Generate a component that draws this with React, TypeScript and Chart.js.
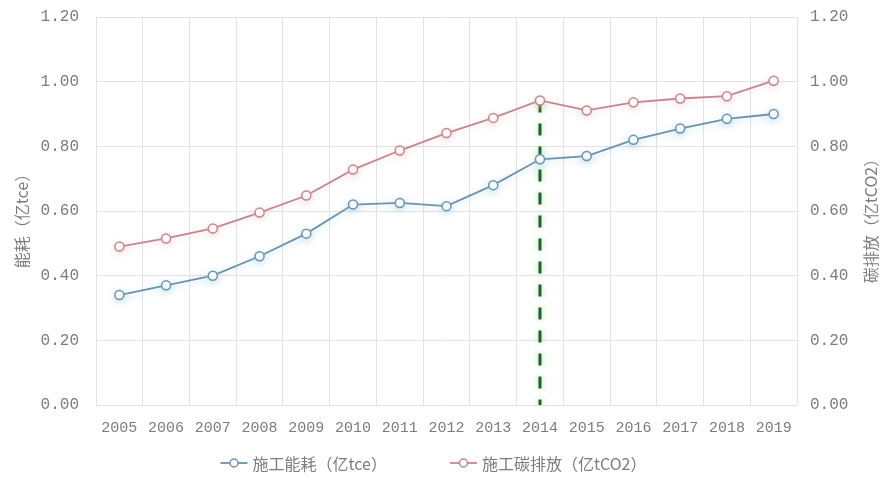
import { useEffect, useRef } from "react";
import { Chart, registerables } from "chart.js";

Chart.register(...registerables);

// Years on the category axis
const years = [
  "2005", "2006", "2007", "2008", "2009", "2010", "2011", "2012",
  "2013", "2014", "2015", "2016", "2017", "2018", "2019",
];

// Construction energy use (亿tce)
const energyUse = [
  0.34, 0.37, 0.40, 0.46, 0.53, 0.62, 0.625, 0.615,
  0.68, 0.76, 0.77, 0.82, 0.855, 0.885, 0.90,
];

// Construction carbon emissions (亿tCO2)
const carbonEmission = [
  0.49, 0.515, 0.546, 0.595, 0.648, 0.728, 0.787, 0.841,
  0.888, 0.942, 0.911, 0.936, 0.948, 0.955, 1.003,
];

// Shared value range of both y axes
const yMin = 0;
const yMax = 1.2;
const yStep = 0.2;

// Year marked by the dashed vertical line
const markerYear = "2014";

const energyLabel = "施工能耗（亿tce）";
const carbonLabel = "施工碳排放（亿tCO2）";
const leftAxisTitle = "能耗（亿tce）";
const rightAxisTitle = "碳排放（亿tCO2）";

const BLUE = "#6f91ab";
const RED = "#c4878c";
const TEXT = "#7c7c7c";
const GRID = "#e3e3e3";
const MONO = '"Liberation Mono", "DejaVu Sans Mono", monospace';
const CJK_FONT = '"Noto Sans CJK SC", "Noto Sans", sans-serif';

// Soft halo behind each series line
const glowPlugin = {
  id: "seriesGlow",
  beforeDatasetDraw(chart: any, args: any) {
    const ds = chart.data.datasets[args.index];
    const ctx = chart.ctx;
    ctx.save();
    ctx.shadowColor = ds.glowColor || "transparent";
    ctx.shadowBlur = 7;
    ctx.shadowOffsetY = 2;
  },
  afterDatasetDraw(chart: any) {
    chart.ctx.restore();
  },
};

// Dashed green marker from the emission point down to the x axis
const markerPlugin = {
  id: "yearMarker",
  beforeDatasetsDraw(chart: any) {
    const { ctx, chartArea, scales } = chart;
    const idx = years.indexOf(markerYear);
    const x = scales.x.getPixelForValue(idx);
    const yTop = scales.y1.getPixelForValue(carbonEmission[idx]);
    ctx.save();
    ctx.strokeStyle = "#265f2f";
    ctx.lineWidth = 3;
    ctx.setLineDash([12, 11]);
    ctx.shadowColor = "rgba(120, 225, 120, 0.9)";
    ctx.shadowBlur = 6;
    ctx.beginPath();
    ctx.moveTo(x, yTop);
    ctx.lineTo(x, chartArea.bottom);
    ctx.stroke();
    ctx.restore();
  },
};

// Rotated axis titles on both sides (both read bottom-to-top)
const axisTitlePlugin = {
  id: "axisTitles",
  afterDraw(chart: any) {
    const { ctx, chartArea } = chart;
    const cy = (chartArea.top + chartArea.bottom) / 2 + 6;
    ctx.save();
    ctx.font = `16px ${CJK_FONT}`;
    ctx.fillStyle = TEXT;
    ctx.textAlign = "center";
    ctx.textBaseline = "middle";
    const titles: [number, string][] = [
      [22, leftAxisTitle],
      [chart.width - 10, rightAxisTitle],
    ];
    titles.forEach(([x, t]) => {
      ctx.save();
      ctx.translate(x, cy);
      ctx.rotate(-Math.PI / 2);
      ctx.fillText(t, 0, 0);
      ctx.restore();
    });
    ctx.restore();
  },
};

// Legend with line-and-circle swatches
const legendPlugin = {
  id: "seriesLegend",
  afterDraw(chart: any) {
    const { ctx, chartArea } = chart;
    const items = chart.data.datasets.map((ds: any) => ({
      text: ds.label as string,
      color: ds.borderColor as string,
    }));
    ctx.save();
    ctx.font = `16px ${CJK_FONT}`;
    const markW = 27;
    const markGap = 5;
    const itemGap = 63;
    let x = chart.width / 2 - 220;
    const y = chartArea.bottom + 58;
    items.forEach((it: any) => {
      ctx.strokeStyle = it.color;
      ctx.lineWidth = 1.8;
      ctx.beginPath();
      ctx.moveTo(x, y);
      ctx.lineTo(x + markW, y);
      ctx.stroke();
      ctx.beginPath();
      ctx.arc(x + markW / 2, y, 4, 0, Math.PI * 2);
      ctx.fillStyle = "#ffffff";
      ctx.fill();
      ctx.lineWidth = 1.5;
      ctx.stroke();
      ctx.fillStyle = TEXT;
      ctx.textAlign = "left";
      ctx.textBaseline = "middle";
      ctx.fillText(it.text, x + markW + markGap, y + 1);
      x += markW + markGap + ctx.measureText(it.text).width + itemGap;
    });
    ctx.restore();
  },
};

export default function App() {
  const canvasRef = useRef<HTMLCanvasElement | null>(null);

  useEffect(() => {
    if (!canvasRef.current) return;
    const chart = new Chart(canvasRef.current, {
      type: "line",
      data: {
        labels: years,
        datasets: [
          {
            label: energyLabel,
            data: energyUse,
            yAxisID: "y",
            borderColor: BLUE,
            backgroundColor: "#ffffff",
            borderWidth: 1.8,
            pointRadius: 4.5,
            pointBorderWidth: 1.5,
            pointBackgroundColor: "#ffffff",
            pointBorderColor: BLUE,
            tension: 0,
            glowColor: "rgba(140, 205, 235, 0.5)",
          } as any,
          {
            label: carbonLabel,
            data: carbonEmission,
            yAxisID: "y1",
            borderColor: RED,
            backgroundColor: "#ffffff",
            borderWidth: 1.8,
            pointRadius: 4.5,
            pointBorderWidth: 1.5,
            pointBackgroundColor: "#ffffff",
            pointBorderColor: RED,
            tension: 0,
            glowColor: "rgba(240, 185, 195, 0.45)",
          } as any,
        ],
      },
      options: {
        animation: false,
        responsive: true,
        maintainAspectRatio: false,
        layout: { padding: { top: 17, left: 0, right: 0, bottom: 0 } },
        plugins: {
          legend: { display: false },
          tooltip: { enabled: false },
        },
        scales: {
          x: {
            type: "category",
            offset: true,
            grid: { offset: true, color: GRID, drawTicks: false },
            border: { display: false },
            ticks: {
              font: { family: MONO, size: 15 },
              color: TEXT,
              padding: 14,
              maxRotation: 0,
              autoSkip: false,
            },
            afterFit: (s: any) => {
              s.height = 72;
            },
          },
          y: {
            position: "left",
            min: yMin,
            max: yMax,
            grid: {
              color: GRID,
              drawTicks: true,
              tickLength: 17,
              tickColor: "rgba(0,0,0,0)",
            },
            border: { display: false },
            ticks: {
              stepSize: yStep,
              font: { family: MONO, size: 16 },
              color: TEXT,
              padding: 0,
              callback: (v: any) => Number(v).toFixed(2),
            },
            afterFit: (s: any) => {
              s.width = 96;
            },
          },
          y1: {
            position: "right",
            min: yMin,
            max: yMax,
            grid: {
              drawOnChartArea: false,
              drawTicks: true,
              tickLength: 13,
              tickColor: "rgba(0,0,0,0)",
            },
            border: { display: false },
            ticks: {
              stepSize: yStep,
              font: { family: MONO, size: 16 },
              color: TEXT,
              padding: 0,
              callback: (v: any) => Number(v).toFixed(2),
            },
            afterFit: (s: any) => {
              s.width = 84;
            },
          },
        },
      },
      plugins: [glowPlugin, markerPlugin, axisTitlePlugin, legendPlugin],
    });
    return () => chart.destroy();
  }, []);

  return (
    <div
      style={{
        position: "fixed",
        left: 0,
        top: 0,
        width: 881,
        height: 477,
        background: "#ffffff",
      }}
    >
      <canvas ref={canvasRef} />
    </div>
  );
}
